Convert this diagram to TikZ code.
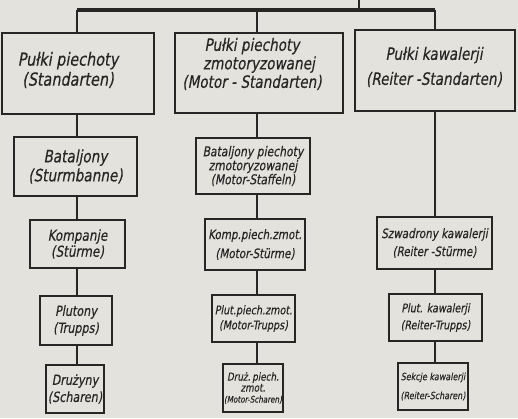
\documentclass[tikz,border=0pt]{standalone}
\usepackage{fontspec}
\newfontfamily\hand{DejaVu Sans}[FakeSlant=0.18,FakeStretch=0.8,FakeBold=0.4]
\definecolor{ink}{HTML}{262626}
\definecolor{paper}{HTML}{E4E2DC}
\newcommand\fz[2]{\fontsize{#1}{#2}\selectfont}
\tikzset{
  box/.style={draw=ink,line width=2.1pt,inner sep=0pt,align=center,text=ink},
  txt/.style={inner sep=0pt,align=center,text=ink},
  link/.style={draw=ink,line width=1.4pt},
  mainbar/.style={draw=ink,line width=4.5pt}
}
\begin{document}
\begin{tikzpicture}[x=1pt,y=-1pt]
\fill[paper] (0,0) rectangle (518,418);
\useasboundingbox (0,0) rectangle (518,418);
% column coordinates on the bar
\coordinate (top) at (359,0);
\coordinate (bt) at (359,10);
\coordinate (bl) at (77,10);
\coordinate (bm) at (257,10);
\coordinate (br) at (435,10);
% left column
\node[box,minimum width=152pt,minimum height=81pt] (L1) at (78,73.5) {};
\node[txt,font={\hand\fz{18}{20}}] (L1t) at (68,70) {Pułki piechoty\\(Standarten)};
\node[box,minimum width=123pt,minimum height=59pt,font={\hand\fz{17}{19}}] (L2) at (75.5,166.5) {Bataljony\\(Sturmbanne)};
\node[box,minimum width=95pt,minimum height=48pt,font={\hand\fz{15}{16}}] (L3) at (77.5,244) {Kompanje\\(Stürme)};
\node[box,minimum width=72pt,minimum height=49pt,font={\hand\fz{14}{17}}] (L4) at (76,320.5) {Plutony\\(Trupps)};
\node[box,minimum width=58pt,minimum height=48pt,font={\hand\fz{14}{17}}] (L5) at (75,389) {Drużyny\\(Scharen)};
% middle column
\node[box,minimum width=168pt,minimum height=80pt] (M1) at (259,73) {};
\node[txt,font={\hand\fz{17}{18.5}}] (M1t) at (252,64) {Pułki piechoty\\\hspace*{14pt}zmotoryzowanej\\(Motor - Standarten)};
\node[box,minimum width=114pt,minimum height=56pt,font={\hand\fz{13.5}{14}}] (M2) at (253,166) {Bataljony piechoty\\zmotoryzowanej\\(Motor-Staffeln)};
\node[box,minimum width=100pt,minimum height=51pt,font={\hand\fz{13}{19}}] (M3) at (255,244.5) {Komp.piech.zmot.\\(Motor-Stürme)};
\node[box,minimum width=83pt,minimum height=47pt,font={\hand\fz{12}{15}}] (M4) at (253.5,318.5) {Plut.piech.zmot.\\(Motor-Trupps)};
\node[box,minimum width=60pt,minimum height=48pt,font={\hand\fz{11}{11}}] (M5) at (253,388) {Druż.\,piech.\\zmot.\\{\fz{9}{12}(Motor-Scharen)}};
% right column
\node[box,minimum width=160pt,minimum height=81pt] (R1) at (435,70.5) {};
\node[txt,font={\hand\fz{17}{25}}] (R1t) at (434,67) {Pułki kawalerji\\(Reiter -Standarten)};
\node[box,minimum width=115pt,minimum height=52pt,font={\hand\fz{13}{18}}] (R2) at (434.5,243) {Szwadrony kawalerji\\(Reiter -Stürme)};
\node[box,minimum width=93pt,minimum height=47pt,font={\hand\fz{12}{17}}] (R3) at (435.5,317.5) {Plut. kawalerji\\(Reiter-Trupps)};
\node[box,minimum width=70pt,minimum height=47pt,font={\hand\fz{10}{19}}] (R4) at (433,386.5) {Sekcje kawalerji\\(Reiter-Scharen)};
% bar and connectors
\draw[mainbar] (bl) -- (br);
\draw[link] (top) -- (bt);
\draw[link] (bl) -- (bl |- L1.north);
\draw[link] (bm) -- (bm |- M1.north);
\draw[link] (br) -- (br |- R1.north);
\draw[link] (L1.south -| bl) -- (L2.north -| bl);
\draw[link] (L2.south -| bl) -- (L3.north -| bl);
\draw[link] (L3.south -| bl) -- (L4.north -| bl);
\draw[link] (L4.south -| bl) -- (L5.north -| bl);
\draw[link] (M1.south -| bm) -- (M2.north -| bm);
\draw[link] (M2.south -| bm) -- (M3.north -| bm);
\draw[link] (M3.south -| bm) -- (M4.north -| bm);
\draw[link] (M4.south -| bm) -- (M5.north -| bm);
\draw[link] (R1.south -| br) -- (R2.north -| br);
\draw[link] (R2.south -| br) -- (R3.north -| br);
\draw[link] (R3.south -| br) -- (R4.north -| br);
\end{tikzpicture}
\end{document}
